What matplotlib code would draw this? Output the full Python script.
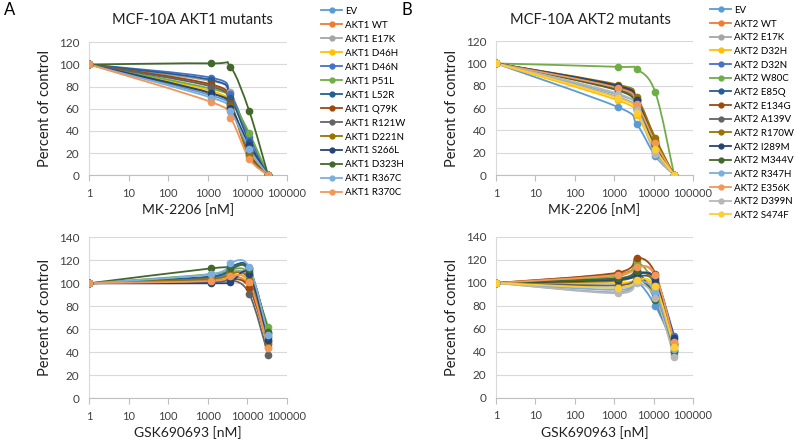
import numpy as np
import matplotlib
matplotlib.use("Agg")
import matplotlib.pyplot as plt
from matplotlib.path import Path
from matplotlib.patches import PathPatch
from matplotlib.lines import Line2D

plt.rcParams['font.family'] = ['Lato', 'DejaVu Sans']

# concentrations (nM); first point is the untreated control plotted at 1
conc = [1, 1235, 3704, 11111, 33333]

colors = ['#5B9BD5', '#ED7D31', '#A5A5A5', '#FFC000', '#4472C4', '#70AD47',
          '#255E91', '#9E480E', '#636363', '#997300', '#264478', '#43682B',
          '#7CAFDD', '#F1975A', '#B7B7B7', '#FFCD33']

akt1_labels = ['EV', 'AKT1 WT', 'AKT1 E17K', 'AKT1 D46H', 'AKT1 D46N', 'AKT1 P51L',
               'AKT1 L52R', 'AKT1 Q79K', 'AKT1 R121W', 'AKT1 D221N', 'AKT1 S266L',
               'AKT1 D323H', 'AKT1 R367C', 'AKT1 R370C']
akt2_labels = ['EV', 'AKT2 WT', 'AKT2 E17K', 'AKT2 D32H', 'AKT2 D32N', 'AKT2 W80C',
               'AKT2 E85Q', 'AKT2 E134G', 'AKT2 A139V', 'AKT2 R170W', 'AKT2 I289M',
               'AKT2 M344V', 'AKT2 R347H', 'AKT2 E356K', 'AKT2 D399N', 'AKT2 S474F']

akt1_mk = [
    [100, 72, 60, 25, 0],
    [100, 81, 64, 22, 0],
    [100, 85, 75, 32, 0],
    [100, 76, 62, 22, 0],
    [100, 88, 73, 35, 0],
    [100, 78, 68, 38, 0],
    [100, 86, 70, 30, 0],
    [100, 82, 65, 20, 0],
    [100, 80, 63, 19, 0],
    [100, 74, 62, 17, 0],
    [100, 74, 61, 27, 0],
    [100, 101, 98, 58, 0],
    [100, 70, 58, 24, 0],
    [100, 66, 52, 15, 0],
]
akt1_gsk = [
    [100, 104, 112, 111, 50],
    [100, 102, 106, 97, 45],
    [100, 103, 110, 105, 55],
    [100, 102, 108, 100, 52],
    [100, 105, 115, 110, 53],
    [100, 108, 112, 108, 62],
    [100, 106, 114, 113, 57],
    [100, 102, 104, 96, 47],
    [100, 101, 103, 91, 38],
    [100, 104, 109, 103, 49],
    [100, 100, 101, 108, 51],
    [100, 113, 113, 112, 58],
    [100, 108, 118, 114, 55],
    [100, 102, 106, 101, 44],
]
akt2_mk = [
    [100, 61, 46, 17, 0],
    [100, 76, 62, 25, 0],
    [100, 70, 57, 20, 0],
    [100, 67, 54, 22, 0],
    [100, 78, 66, 28, 0],
    [100, 97, 95, 74, 0],
    [100, 80, 68, 30, 0],
    [100, 79, 67, 31, 0],
    [100, 77, 64, 27, 0],
    [100, 81, 70, 33, 0],
    [100, 80, 67, 28, 0],
    [100, 76, 59, 26, 0],
    [100, 72, 60, 21, 0],
    [100, 78, 64, 29, 0],
    [100, 73, 58, 19, 0],
    [100, 69, 56, 23, 0],
]
akt2_gsk = [
    [100, 96, 101, 80, 45],
    [100, 108, 115, 106, 50],
    [100, 92, 104, 90, 37],
    [100, 100, 103, 95, 44],
    [100, 104, 108, 104, 54],
    [100, 106, 118, 97, 42],
    [100, 103, 106, 100, 48],
    [100, 109, 122, 108, 47],
    [100, 98, 104, 88, 40],
    [100, 102, 110, 99, 46],
    [100, 103, 108, 103, 52],
    [100, 104, 110, 85, 41],
    [100, 94, 102, 92, 43],
    [100, 107, 114, 107, 49],
    [100, 91, 100, 87, 36],
    [100, 96, 103, 97, 44],
]


def smooth_path(x, y, ymax, w, h):
    # Excel-like smoothed line: bezier segments built in screen-ish space
    u = np.log10(x) / 5.0 * w
    v = np.asarray(y, float) / ymax * h
    pts = np.column_stack([u, v])
    n = len(pts)
    verts = [pts[0]]
    codes = [Path.MOVETO]
    for i in range(n - 1):
        p0, p3 = pts[i], pts[i + 1]
        pm = pts[i - 1] if i > 0 else pts[i]
        pp = pts[i + 2] if i + 2 < n else pts[i + 1]
        c1 = p0 + (p3 - pm) / 6.0
        c2 = p3 - (pp - p0) / 6.0
        verts += [c1, c2, p3]
        codes += [Path.CURVE4] * 3
    verts = np.array(verts)
    verts[:, 0] = 10 ** (verts[:, 0] / w * 5.0)
    verts[:, 1] = verts[:, 1] / h * ymax
    return Path(verts, codes)


def draw_panel(ax, data, ymax, xlabel):
    bb = ax.get_position()
    w, h = bb.width * 797, bb.height * 440
    for vals, c in zip(data, colors):
        ax.add_patch(PathPatch(smooth_path(conc, vals, ymax, w, h), facecolor='none',
                               edgecolor=c, lw=1.3, zorder=2))
        ax.plot(conc, vals, 'o', color=c, ms=4.5, zorder=3)
    ax.set_xscale('log')
    ax.set_xlim(1, 1e5)
    ax.set_ylim(0, ymax)
    ax.set_yticks(range(0, ymax + 1, 20))
    ax.set_xticks([1, 10, 100, 1000, 10000, 100000])
    ax.set_xticklabels(['1', '10', '100', '1000', '10000', '100000'])
    ax.grid(axis='y', color='#D9D9D9', lw=0.8)
    ax.set_axisbelow(True)
    for s in ['top', 'right']:
        ax.spines[s].set_visible(False)
    ax.spines['left'].set_color('#D9D9D9')
    ax.spines['bottom'].set_color('#BFBFBF')
    ax.tick_params(axis='y', length=0, labelsize=8.5, colors='#404040', pad=7)
    ax.tick_params(axis='x', which='major', length=4, color='#BFBFBF',
                   labelsize=8, labelcolor='#404040', pad=5)
    ax.tick_params(axis='x', which='minor', length=2.5, color='#BFBFBF')
    ax.set_ylabel('Percent of control', fontsize=10.5, color='#202020', labelpad=5)
    ax.set_xlabel(xlabel, fontsize=10, color='#202020', labelpad=3)


fig = plt.figure(figsize=(7.97, 4.40), dpi=100)
ax1 = fig.add_axes([0.1117, 0.6016, 0.2484, 0.3023])
ax2 = fig.add_axes([0.1117, 0.0948, 0.2484, 0.3659])
ax3 = fig.add_axes([0.6223, 0.6020, 0.2472, 0.3045])
ax4 = fig.add_axes([0.6223, 0.0955, 0.2472, 0.3659])

draw_panel(ax1, akt1_mk, 120, 'MK-2206 [nM]')
draw_panel(ax2, akt1_gsk, 140, 'GSK690693 [nM]')
draw_panel(ax3, akt2_mk, 120, 'MK-2206 [nM]')
draw_panel(ax4, akt2_gsk, 140, 'GSK690963 [nM]')

fig.text(192 / 797, 1 - 20 / 440, 'MCF-10A AKT1 mutants', fontsize=10.5,
         ha='center', va='center', color='#202020')
fig.text(590 / 797, 1 - 20 / 440, 'MCF-10A AKT2 mutants', fontsize=10.5,
         ha='center', va='center', color='#202020')
fig.text(4 / 797, 1 - 10 / 440, 'A', fontsize=12, ha='left', va='center')
fig.text(402 / 797, 1 - 10 / 440, 'B', fontsize=12, ha='left', va='center')

h1 = [Line2D([], [], color=c, marker='o', ms=3.5, lw=1.3) for c in colors[:len(akt1_labels)]]
fig.legend(h1, akt1_labels, loc='upper left', bbox_to_anchor=(317 / 797, 1 - 3 / 440),
           frameon=False, fontsize=7, handlelength=2.2, handletextpad=0.3,
           labelspacing=0.51, borderaxespad=0)
h2 = [Line2D([], [], color=c, marker='o', ms=3.5, lw=1.3) for c in colors[:len(akt2_labels)]]
fig.legend(h2, akt2_labels, loc='upper left', bbox_to_anchor=(706 / 797, 1 - 2 / 440),
           frameon=False, fontsize=7, handlelength=2.2, handletextpad=0.3,
           labelspacing=0.48, borderaxespad=0)

fig.savefig('out.png', dpi=100)
